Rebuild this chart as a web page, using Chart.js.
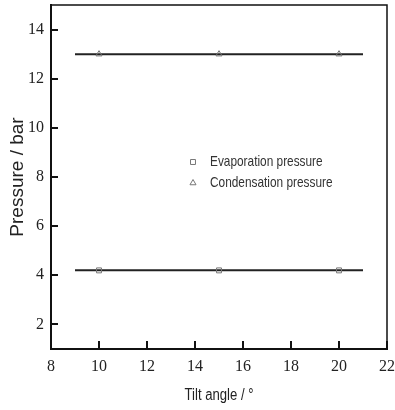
<!DOCTYPE html>
<html>
<head>
<meta charset="utf-8">
<script src="https://cdn.jsdelivr.net/npm/chart.js@4"></script>
<style>
    html, body { margin: 0; padding: 0; background: #fff; }
    #wrap { width: 395px; height: 410px; }
</style>
</head>
<body>
<div id="wrap"><canvas id="pressureChart" width="395" height="410"></canvas></div>
<script>
// values
const tiltAngles = [10, 15, 20];
const evaporationPressure = [4.2, 4.2, 4.2];
const condensationPressure = [13.0, 13.0, 13.0];
const fitRange = [9, 21];
const evaporationFit = [4.2, 4.2];
const condensationFit = [13.0, 13.0];
const xTicks = [8, 10, 12, 14, 16, 18, 20, 22];
const yTicks = [2, 4, 6, 8, 10, 12, 14];
const seriesNames = ['Evaporation pressure', 'Condensation pressure'];
const xTitle = 'Tilt angle / °';
const yTitle = 'Pressure / bar';

const sans = "'Liberation Sans', Arial, sans-serif";
const serif = "'Liberation Serif', 'Times New Roman', serif";

const toPoints = (xs, ys) => xs.map((x, i) => ({ x: x, y: ys[i] }));

// the source figure has narrow, tall lettering: squeeze text horizontally
function narrowText(ctx, text, x, y, squeeze) {
    ctx.save();
    ctx.translate(x, y);
    ctx.scale(squeeze, 1);
    ctx.fillText(text, 0, 0);
    ctx.restore();
}

// inward ticks + top/right frame
const framePlugin = {
    id: 'frame',
    afterDraw(chart) {
        const { ctx, chartArea: a, scales } = chart;
        ctx.save();
        ctx.strokeStyle = '#111';
        ctx.lineWidth = 2;
        xTicks.forEach(v => {
            const px = Math.round(scales.x.getPixelForValue(v));
            ctx.beginPath();
            ctx.moveTo(px, a.bottom);
            ctx.lineTo(px, a.bottom - 8);
            ctx.stroke();
        });
        yTicks.forEach(v => {
            const py = Math.round(scales.y.getPixelForValue(v));
            ctx.beginPath();
            ctx.moveTo(a.left, py);
            ctx.lineTo(a.left + 7, py);
            ctx.stroke();
        });
        ctx.lineWidth = 1.5;
        ctx.beginPath();
        ctx.moveTo(a.left, a.top);
        ctx.lineTo(a.right, a.top);
        ctx.lineTo(a.right, a.bottom);
        ctx.stroke();

        // x axis title
        ctx.fillStyle = '#222';
        ctx.font = '16px ' + sans;
        ctx.textAlign = 'center';
        ctx.textBaseline = 'middle';
        narrowText(ctx, xTitle, (a.left + a.right) / 2, 396, 0.82);
        ctx.restore();
    }
};

// legend sitting inside the plot
const innerLegend = {
    id: 'innerLegend',
    afterDraw(chart) {
        const { ctx } = chart;
        const styles = ['rect', 'triangle'];
        ctx.save();
        ctx.font = '15px ' + sans;
        ctx.textBaseline = 'middle';
        seriesNames.forEach((name, i) => {
            const y = 162 + i * 21;
            ctx.strokeStyle = '#777';
            ctx.fillStyle = 'rgba(0,0,0,0)';
            ctx.lineWidth = 1;
            Chart.helpers.drawPoint(ctx, { pointStyle: styles[i], radius: 3.5, borderWidth: 1 }, 193, y);
            ctx.fillStyle = '#333';
            narrowText(ctx, name, 210, y, 0.79);
        });
        ctx.restore();
    }
};

const ctx = document.getElementById('pressureChart').getContext('2d');

new Chart(ctx, {
    type: 'scatter',
    data: {
        datasets: [
            {
                label: seriesNames[0],
                data: toPoints(tiltAngles, evaporationPressure),
                pointStyle: 'rect',
                pointRadius: 3.5,
                borderColor: '#777',
                backgroundColor: 'rgba(255,255,255,0)',
                borderWidth: 1,
                order: 0
            },
            {
                label: seriesNames[1],
                data: toPoints(tiltAngles, condensationPressure),
                pointStyle: 'triangle',
                pointRadius: 3.5,
                borderColor: '#777',
                backgroundColor: 'rgba(255,255,255,0)',
                borderWidth: 1,
                order: 0
            },
            {
                label: 'evap fit',
                data: toPoints(fitRange, evaporationFit),
                showLine: true,
                pointRadius: 0,
                borderColor: '#222',
                borderWidth: 2,
                order: 1
            },
            {
                label: 'cond fit',
                data: toPoints(fitRange, condensationFit),
                showLine: true,
                pointRadius: 0,
                borderColor: '#222',
                borderWidth: 2,
                order: 1
            }
        ]
    },
    options: {
        responsive: false,
        animation: false,
        layout: { padding: { top: 5, right: 8, left: 0, bottom: 0 } },
        plugins: {
            legend: { display: false },
            tooltip: { enabled: false }
        },
        scales: {
            x: {
                type: 'linear',
                min: 8,
                max: 22,
                afterBuildTicks: scale => { scale.ticks = xTicks.map(v => ({ value: v })); },
                afterFit: scale => {
                    scale.height = 61;
                    scale.paddingLeft = 0;
                    scale.paddingRight = 0;
                },
                grid: { display: false, drawTicks: false },
                border: { display: true, color: '#111', width: 2 },
                ticks: {
                    padding: 8,
                    color: '#222',
                    font: { family: serif, size: 16 }
                }
            },
            y: {
                type: 'linear',
                min: 1,
                max: 15,
                afterBuildTicks: scale => { scale.ticks = yTicks.map(v => ({ value: v })); },
                afterFit: scale => {
                    scale.width = 51;
                    scale.paddingTop = 0;
                    scale.paddingBottom = 0;
                },
                grid: { display: false, drawTicks: false },
                border: { display: true, color: '#111', width: 2 },
                ticks: {
                    padding: 7,
                    color: '#222',
                    font: { family: serif, size: 16 }
                },
                title: {
                    display: true,
                    text: yTitle,
                    color: '#222',
                    font: { family: sans, size: 19 },
                    padding: { top: 6, bottom: 0 }
                }
            }
        }
    },
    plugins: [framePlugin, innerLegend]
});
</script>
</body>
</html>
